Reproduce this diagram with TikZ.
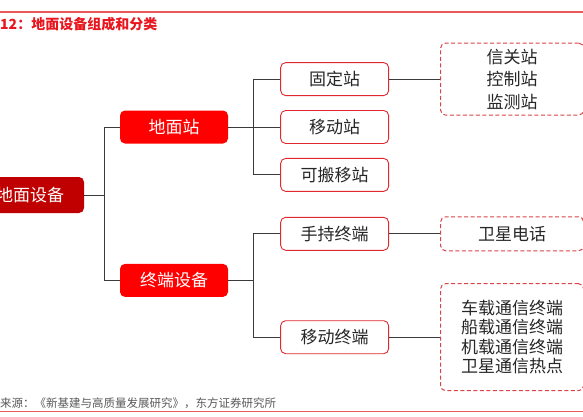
\documentclass[tikz,border=0pt]{standalone}
\usepackage{fontspec}
\setmainfont{Noto Sans CJK SC}
\usetikzlibrary{positioning}
\definecolor{colRed}     {HTML}{FF0000}
\definecolor{colDarkRed} {HTML}{C00000}
\definecolor{colEdge}    {HTML}{E0282E}
\definecolor{colDash}    {HTML}{D9434A}
\definecolor{colLine}    {HTML}{3A3A3A}
\definecolor{colText}    {HTML}{262626}
\definecolor{colTitle}   {HTML}{E8161E}
\definecolor{colRule}    {HTML}{E9585A}
\definecolor{colSrc}     {HTML}{595959}
\tikzset{
  box/.style={
    rounded corners=5pt,
    minimum width=108pt, minimum height=33pt,
    align=center, inner sep=2pt,
    font=\fontsize{17}{20}\selectfont
  },
  rootbox/.style ={box, fill=colDarkRed, text=white, minimum height=36pt},
  groupbox/.style={box, fill=colRed, text=white},
  leafbox/.style ={box, draw=colEdge, line width=0.9pt, fill=white, text=colText},
  listbox/.style ={box, draw=colDash, dash pattern=on 4pt off 2.5pt,
    line width=1pt, minimum width=143pt, text=colText},
  link/.style={draw=colLine, line width=0.9pt},
  rule/.style={draw=colRule, line width=1.2pt}
}

\begin{document}
\begin{tikzpicture}[x=1pt, y=-1pt]
    \useasboundingbox (0,0) rectangle (583,416);
    \draw[rule] (0,12) -- (583,12);
    \node[anchor=west, inner sep=0pt, text=colTitle, font=\fontsize{14}{16}\selectfont\bfseries] (title) at (0,24) {12：地面设备组成和分类};

    \node[rootbox] (ground) at (30,195) {地面设备};
    \node[groupbox] (station) at (174,127) {地面站};
    \node[groupbox, below=120pt of station] (term) {终端设备};

    \node[leafbox, right=52pt of station] (mobile) {移动站};
    \node[leafbox, above=14pt of mobile] (fixed) {固定站};
    \node[leafbox, below=14pt of mobile] (portable) {可搬移站};
    \node[leafbox, below=25pt of portable] (handheld) {手持终端};
    \node[leafbox, below=69.5pt of handheld] (mobterm) {移动终端};

    \node[listbox, right=51pt of fixed, minimum height=72pt, font=\fontsize{17}{22.5}\selectfont] (stations) {信关站\\控制站\\监测站};
    \node[listbox, right=51pt of handheld, minimum height=34pt] (phone) {卫星电话};
    \node[listbox, right=51pt of mobterm, minimum height=107pt, font=\fontsize{17}{19.5}\selectfont] (terminals) {车载通信终端\\船载通信终端\\机载通信终端\\卫星通信热点};

    \draw[link] (ground.east) -- ++(20,0) coordinate (gj) |- (station.west);
    \draw[link] (gj) |- (term.west);
    \draw[link] (station.east) -- ++(25,0) coordinate (sj) |- (fixed.west);
    \draw[link] (sj) -- (mobile.west);
    \draw[link] (sj) |- (portable.west);
    \draw[link] (term.east) -- ++(25,0) coordinate (tj) |- (handheld.west);
    \draw[link] (tj) |- (mobterm.west);
    \draw[link] (fixed.east) -- (stations.west);
    \draw[link] (handheld.east) -- (phone.west);
    \draw[link] (mobterm.east) -- (terminals.west);

    \node[anchor=west, inner sep=0pt, text=colSrc, font=\fontsize{11.5}{13}\selectfont] (source) at (0,403) {来源：《新基建与高质量发展研究》，东方证券研究所};
    \draw[rule] (0,411.5) -- (583,411.5);
\end{tikzpicture}
\end{document}
